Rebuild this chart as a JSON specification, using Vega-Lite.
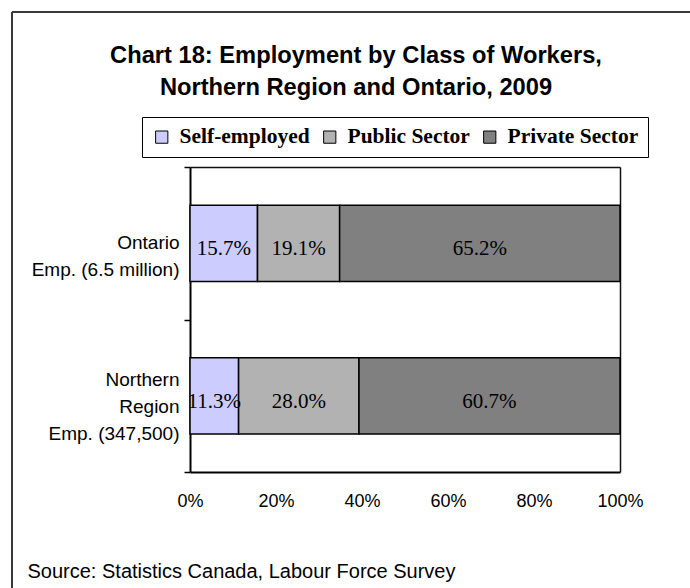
{
  "$schema": "https://vega.github.io/schema/vega-lite/v6.json",
  "width": 678,
  "height": 576,
  "autosize": {"type": "none"},
  "padding": {"left": 12, "top": 12, "right": 0, "bottom": 0},
  "background": "white",
  "config": {
    "font": "Liberation Sans",
    "view": {"stroke": "#3a3a3a", "strokeWidth": 2, "strokeDash": [678, 1254, 576, 0]}
  },
  "title": {
    "text": ["Chart 18: Employment by Class of Workers,", "Northern Region and Ontario, 2009"],
    "font": "Liberation Sans",
    "fontSize": 23.7,
    "fontWeight": "bold",
    "color": "black",
    "anchor": "middle",
    "frame": "group",
    "baseline": "alphabetic",
    "lineHeight": 32,
    "offset": 4,
    "dx": 5,
    "dy": 120
  },
  "data": {
    "values": [
      {"region": "Ontario", "sector": "Self-employed", "share": 0.157},
      {"region": "Ontario", "sector": "Public Sector", "share": 0.191},
      {"region": "Ontario", "sector": "Private Sector", "share": 0.652},
      {"region": "Northern", "sector": "Self-employed", "share": 0.113},
      {"region": "Northern", "sector": "Public Sector", "share": 0.28},
      {"region": "Northern", "sector": "Private Sector", "share": 0.607}
    ]
  },
  "transform": [
    {"stack": "share", "groupby": ["region"], "sort": [{"field": "sector", "order": "descending"}], "as": ["x0", "x1"]}
  ],
  "layer": [
    {
      "mark": {"type": "bar", "stroke": "black", "strokeWidth": 1.5, "height": {"band": 0.5}},
      "encoding": {
        "y": {
          "field": "region",
          "type": "nominal",
          "sort": ["Ontario", "Northern"],
          "scale": {"range": [155, 460], "paddingInner": 0, "paddingOuter": 0},
          "axis": {
            "orient": "left",
            "offset": -178,
            "title": null,
            "grid": false,
            "domainColor": "black",
            "domainWidth": 2,
            "ticks": true,
            "tickSize": 6,
            "tickColor": "black",
            "tickWidth": 1.5,
            "tickBand": "extent",
            "labelExpr": "datum.value == 'Ontario' ? ['Ontario', 'Emp. (6.5 million)'] : datum.value == 'Northern' ? ['Northern', 'Region', 'Emp. (347,500)'] : ''",
            "labelFont": "Liberation Sans",
            "labelFontSize": 19,
            "labelColor": "black",
            "labelAlign": "right",
            "labelPadding": 5,
            "labelLineHeight": 27,
            "labelLimit": 300,
            "labelOffset": {"condition": {"test": "datum.value == 'Ontario'", "value": -1}, "value": -16}
          }
        },
        "x": {
          "field": "x0",
          "type": "quantitative",
          "scale": {"domain": [0, 1], "range": [178, 608], "nice": false},
          "axis": {
            "orient": "bottom",
            "offset": -116,
            "values": [0, 0.2, 0.4, 0.6, 0.8, 1],
            "format": ".0%",
            "grid": false,
            "ticks": false,
            "labelFlush": false,
            "labelPadding": 20,
            "labelFont": "Liberation Sans",
            "labelFontSize": 18,
            "labelColor": "black",
            "domainColor": "black",
            "domainWidth": 2,
            "title": "Source: Statistics Canada, Labour Force Survey",
            "titleFont": "Liberation Sans",
            "titleFontSize": 20,
            "titleFontWeight": "normal",
            "titleColor": "black",
            "titleAnchor": "start",
            "titleAlign": "left",
            "titleBaseline": "alphabetic",
            "titleX": 15,
            "titleY": 105
          }
        },
        "x2": {"field": "x1"},
        "color": {
          "field": "sector",
          "type": "nominal",
          "scale": {
            "domain": ["Self-employed", "Public Sector", "Private Sector"],
            "range": ["#CCCCFF", "#B2B2B2", "#808080"]
          },
          "legend": {
            "orient": "none",
            "legendX": 130,
            "legendY": 105,
            "direction": "horizontal",
            "title": null,
            "labelFont": "Liberation Serif",
            "labelFontWeight": "bold",
            "labelFontSize": 21.5,
            "labelColor": "black",
            "labelOffset": 7,
            "symbolType": "square",
            "symbolSize": 150,
            "symbolStrokeColor": "black",
            "symbolStrokeWidth": 1,
            "symbolOpacity": 1,
            "columnPadding": 9,
            "padding": 9,
            "strokeColor": "black",
            "fillColor": "white"
          }
        }
      }
    },
    {
      "transform": [{"fold": ["x0", "x1"], "as": ["edge", "pos"]}],
      "mark": {"type": "text", "font": "Liberation Serif", "fontSize": 21, "color": "black", "baseline": "middle", "dy": 6},
      "encoding": {
        "y": {
          "field": "region",
          "type": "nominal",
          "sort": ["Ontario", "Northern"],
          "axis": {"orient": "right", "offset": -70, "title": null, "labels": false, "ticks": false, "grid": false, "domainColor": "#111111", "domainWidth": 1.5}
        },
        "x": {
          "aggregate": "mean",
          "field": "pos",
          "type": "quantitative",
          "axis": {"orient": "top", "offset": -155, "title": null, "labels": false, "ticks": false, "grid": false, "domainColor": "#111111", "domainWidth": 1.5}
        },
        "detail": {"field": "sector"},
        "text": {"field": "share", "type": "quantitative", "format": ".1%"}
      }
    }
  ],
  "resolve": {"axis": {"x": "independent", "y": "independent"}}
}
